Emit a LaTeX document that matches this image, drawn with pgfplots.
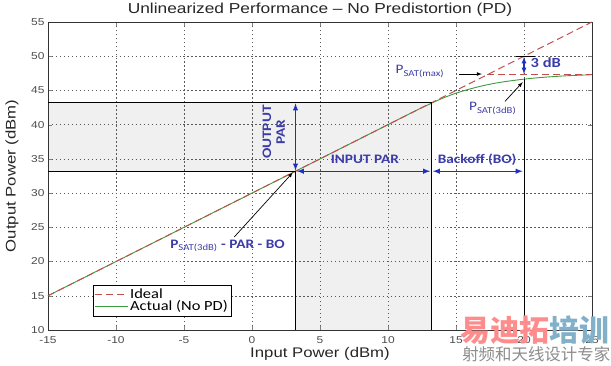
\documentclass[border=0pt]{standalone}
\usepackage{fontspec}
\setmainfont{Liberation Sans}[FakeStretch=1.2]
\newfontfamily\calfont{Carlito}[FakeStretch=1.18]
\newfontfamily\cjk{Noto Sans CJK SC}
\usepackage{pgfplots}
\pgfplotsset{compat=1.18}
\definecolor{idealc}{HTML}{C0504D}
\definecolor{actualc}{HTML}{3E9A3E}
\definecolor{arrowc}{HTML}{1F2FBF}
\definecolor{labc}{HTML}{3C3CA8}
\definecolor{shade}{HTML}{F0F0F0}
\begin{document}
\begin{tikzpicture}
\begin{axis}[name=ax,
  set layers, scale only axis, width=544bp, height=308bp,
  xmin=-15, xmax=25, ymin=10, ymax=55,
  xtick={-15,-10,...,25}, ytick={10,15,...,55},
  grid=major, grid style={dash pattern=on 1.5pt off 2.5pt, black!65, line width=0.5pt},
  tick align=inside, major tick length=4bp,
  axis line style={line width=0.9pt, black!80},
  /pgf/number format/assume math mode=true,
  ticklabel style={font=\fontsize{10}{12}\selectfont, text=black!70},
  xticklabel style={yshift=-3bp},
  title={Unlinearized Performance -- No Predistortion (PD)},
  every axis title shift=0pt,
  title style={at={(axis description cs:0.5,1.04)}, anchor=center, font=\fontsize{14.5}{16}\selectfont, text=black!85},
  xlabel={Input Power (dBm)}, ylabel={Output Power (dBm)},
  every axis x label/.style={at={(axis description cs:0.5,-0.078)}, anchor=center, font=\fontsize{14}{16}\selectfont, text=black!85},
  every axis y label/.style={at={(axis description cs:-0.066,0.5)}, rotate=90, anchor=center, font=\fontsize{14}{16}\selectfont, text=black!85},
  clip=false,
  reverse legend,
  legend style={at={(axis cs:-11.7,12.0)}, anchor=south west, font=\calfont\fontsize{14}{14}\selectfont, draw=black, line width=0.8pt, inner sep=1.5pt, row sep=-3pt},
  legend cell align=left,
  legend image code/.code={\draw[#1, line width=0.8pt] (0cm,0cm) -- (1.15cm,0cm);},
]
% shaded PAR region
\addplot[on layer=axis background, fill=shade, draw=none, forget plot] coordinates {(-15,33.2) (3.2,33.2) (3.2,10) (13.2,10) (13.2,43.2) (-15,43.2)} -- cycle;
% actual
\addplot[actualc, line width=0.9pt, smooth] coordinates {
(-15,15) (-10,20) (-5,25) (0,30) (5,35) (10,40) (12,42) (13,42.95) (14,43.85) (15,44.6) (16,45.2) (17,45.7) (18,46.1) (19,46.4) (20,46.65) (21,46.85) (22,47.0) (23,47.13) (24,47.22) (25,47.3)};
\addlegendentry{Actual (No PD)}
% ideal
\addplot[idealc, dash pattern=on 7pt off 4pt, line width=1pt] coordinates {(-15,15) (25,55)};
\addlegendentry{Ideal}
% Psat max dashed
\addplot[idealc, dash pattern=on 7pt off 4pt, line width=1pt, forget plot] coordinates {(17.3,47.3) (25,47.3)};
% black box lines
\draw[black, line width=0.9pt] (axis cs:-15,43.2) -- (axis cs:13.2,43.2) -- (axis cs:13.2,10);
\draw[black, line width=0.9pt] (axis cs:-15,33.2) -- (axis cs:3.2,33.2) -- (axis cs:3.2,10);
\draw[black, line width=0.9pt] (axis cs:20,10) -- (axis cs:20,46.6);
\draw[black, line width=0.9pt] (axis cs:19.4,50) -- (axis cs:20.8,50);
% blue arrows
\draw[arrowc, line width=1.4pt, <->, >=latex] (axis cs:3.2,33.3) -- (axis cs:3.2,43.1);
\draw[arrowc, line width=1.4pt, <->, >=latex] (axis cs:3.3,33.2) -- (axis cs:13.1,33.2);
\draw[arrowc, line width=1.4pt, <->, >=latex] (axis cs:13.3,33.2) -- (axis cs:19.9,33.2);
\draw[arrowc, line width=1.2pt, <->, >=latex] (axis cs:20,49.9) -- (axis cs:20,47.4);
% black pointers
\draw[black, line width=0.7pt, ->, >=latex] (axis cs:15.2,47.4) -- (axis cs:16.9,47.4);
\draw[black, line width=0.7pt, ->, >=latex] (axis cs:18.6,43.4) -- (axis cs:19.9,46.2);
\draw[black, line width=0.7pt, ->, >=latex] (axis cs:-1.3,23.6) -- (axis cs:3.0,33.0);
% labels
\node[labc, font=\calfont\bfseries\fontsize{13}{14}\selectfont] at (axis cs:8.3,35.0) {INPUT PAR};
\node[labc, font=\calfont\bfseries\fontsize{13}{14}\selectfont] at (axis cs:16.55,34.9) {Backoff (BO)};
\node[labc, font=\calfont\bfseries\fontsize{13}{14}\selectfont, rotate=90, align=center] at (axis cs:1.6,38.9) {OUTPUT\\PAR};
\node[labc, font=\calfont\bfseries\fontsize{14}{15}\selectfont] at (axis cs:21.6,49.0) {3 dB};
\node[labc, font=\calfont\fontsize{13}{14}\selectfont] at (axis cs:12.35,47.8) {P\textsubscript{SAT(max)}};
\node[labc, font=\calfont\fontsize{13}{14}\selectfont] at (axis cs:17.7,42.4) {P\textsubscript{SAT(3dB)}};
\node[labc, font=\calfont\bfseries\fontsize{13}{14}\selectfont] at (axis cs:-1.8,22.3) {P\textsubscript{\mdseries SAT(3dB)} - PAR - BO};
% watermark
\node[font=\cjk\bfseries\fontsize{30}{30}\selectfont, inner sep=0pt] at (axis cs:20.8,9.9) {\textcolor{red!45}{易迪拓}\textcolor{blue!35!cyan!40!gray!70}{培训}};
\node[font=\cjk\fontsize{16.5}{17}\selectfont, text=black!45, inner sep=0pt] at (axis cs:20.9,6.5) {射频和天线设计专家};
\end{axis}
\pgfresetboundingbox
\useasboundingbox ([xshift=-48bp,yshift=-36bp]ax.south west) rectangle ([xshift=19bp,yshift=22bp]ax.north east);
\end{tikzpicture}
\end{document}
